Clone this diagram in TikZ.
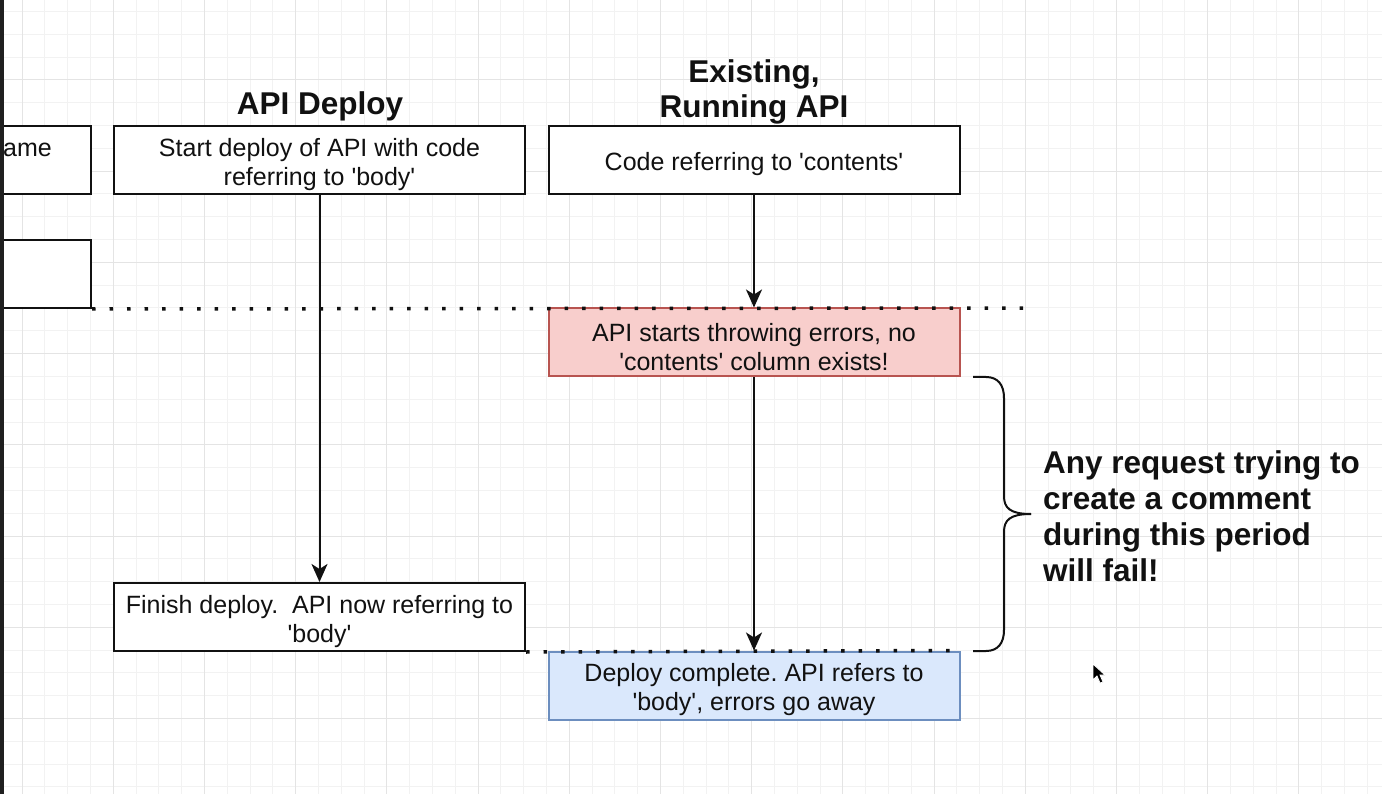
\documentclass[tikz,border=0pt]{standalone}
\usepackage{fontspec}
\setmainfont{Liberation Sans}[Ligatures=TeXOff]
\usetikzlibrary{arrows.meta}
\definecolor{gridminor}{HTML}{F2F2F2}
\definecolor{gridmajor}{HTML}{E4E4E4}
\definecolor{redfill}{HTML}{F8CECC}
\definecolor{redline}{HTML}{B85450}
\definecolor{bluefill}{HTML}{DAE8FC}
\definecolor{blueline}{HTML}{6C8EBF}
\definecolor{ink}{HTML}{111111}
\newcommand{\lowerfirst}{\rule{0pt}{26.5pt}}
\frenchspacing
\begin{document}
\begin{tikzpicture}[x=1pt,y=-1pt,
  box/.style={draw=ink, line width=2pt, fill=white, minimum width=411pt, minimum height=68pt,
    inner sep=0pt, align=center, text=ink, font=\fontsize{25}{29}\selectfont},
  plain/.style={inner sep=0pt, text=ink, font=\fontsize{25}{29}\selectfont},
  hdr/.style={inner sep=0pt, align=center, text=ink, font=\fontsize{31.5}{35}\selectfont\bfseries},
  note/.style={inner sep=0pt, align=left, text=ink, font=\fontsize{31.5}{36}\selectfont\bfseries},
  arr/.style={draw=ink, line width=2pt, -{Stealth[length=18pt,width=16pt,inset=5pt]}},
  dots/.style={draw=ink, line width=3.5pt, dash pattern=on 3.5pt off 14pt},
  bracestyle/.style={draw=ink, line width=2pt}
]
\useasboundingbox (0,0) rectangle (1382,794);
\fill[white] (0,0) rectangle (1382,794);
% grid
\foreach \k in {-1,...,59} \draw[gridminor, line width=1pt] ({22+22.8*\k},0) -- ({22+22.8*\k},794);
\foreach \k in {-4,...,31} \draw[gridminor, line width=1pt] (0,{80+22.8*\k}) -- (1382,{80+22.8*\k});
\foreach \k in {0,...,14} \draw[gridmajor, line width=1pt] ({22+91.2*\k},0) -- ({22+91.2*\k},794);
\foreach \k in {-1,...,7} \draw[gridmajor, line width=1pt] (0,{80+91.2*\k}) -- (1382,{80+91.2*\k});

% left partial boxes
\node[box, minimum width=140pt] (prevA) at (21,160) {};
\node[plain, anchor=base west] (prevAtext) at (3,157) {ame};
\node[box, minimum width=140pt] (prevB) at (21,274) {};

% headers
\node[hdr] (hdrDeploy) at (320,106.5) {API Deploy};
\node[hdr] (hdrRun) at (754,92) {Existing,\\Running API};

% main boxes
\node[box] (start) at (319.5,160) {\lowerfirst Start deploy of API with code\\referring to 'body'};
\node[box] (code) at (754,160) {\lowerfirst Code referring to 'contents'};
\node[box, fill=redfill, draw=redline] (err) at (754,342.5) {\lowerfirst API starts throwing errors, no\\'contents' column exists!};
\node[box] (finish) at (319.5,617) {\lowerfirst Finish deploy.\ \ API now referring to\\'body'};
\node[box, fill=bluefill, draw=blueline] (done) at (754,685.5) {\lowerfirst Deploy complete. API refers to\\'body', errors go away};

% connectors
\draw[arr] (start.south) -- (finish.north);
\draw[arr] (code.south) -- (err.north);
\draw[arr] (err.south) -- (done.north);

% dotted time lines
\coordinate (d1end) at (1030,308);
\draw[dots] (prevB.south east) -- (d1end);
\draw[dots] (finish.south east) -- (done.north east);

% brace
\coordinate (braceTop) at (973,377);
\coordinate (braceTip) at (1031,514);
\coordinate (braceBot) at (973,651);
\draw[bracestyle] (braceTop) -- (986,377) .. controls (998,377) and (1004,385) .. (1004,398)
  -- (1004,496) .. controls (1004,508) and (1010,514) .. (braceTip);
\draw[bracestyle] (braceTip) .. controls (1010,514) and (1004,520) .. (1004,532)
  -- (1004,630) .. controls (1004,643) and (998,651) .. (986,651) -- (braceBot);

% note
\node[note, anchor=north west] (note) at (1043,450) {Any request trying to\\create a comment\\during this period\\will fail!};

% mouse cursor
\filldraw[fill=black, draw=white, line width=0.8pt] (1093,664) -- (1093,680) -- (1097,676) -- (1100,683) -- (1103,682) -- (1100,675) -- (1105,675) -- cycle;

% left window edge
\fill[black!88] (0,0) rectangle (4,794);
\end{tikzpicture}
\end{document}
